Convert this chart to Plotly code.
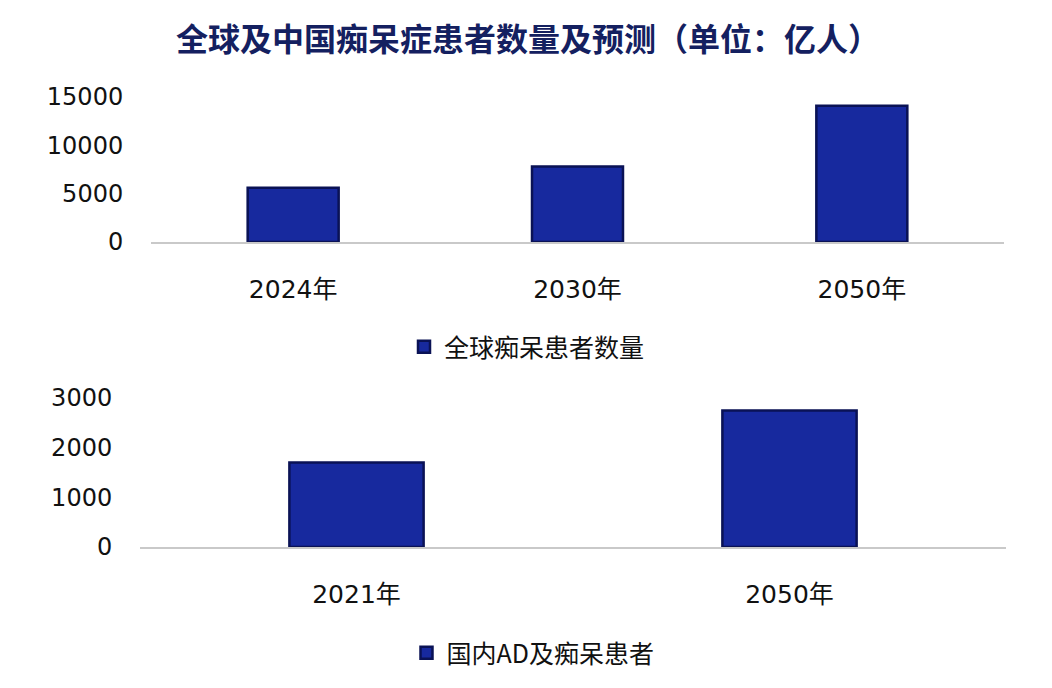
import plotly.graph_objects as go
from plotly.subplots import make_subplots

# Data
global_years = ["2024年", "2030年", "2050年"]
global_values = [5600, 7800, 14100]
global_name = "全球痴呆患者数量"

china_years = ["2021年", "2050年"]
china_values = [1700, 2750]
china_name = "国内AD及痴呆患者"

title_text = "全球及中国痴呆症患者数量及预测（单位：亿人）"

W, H = 1052, 688
OFF = 8  # page body margin offset


def px_x(p):
    return (p - OFF) / W


def px_y(p):
    return 1 - (p - OFF) / H


font_main = "DejaVu Sans, Noto Sans CJK SC"
font_cjk = "Noto Sans CJK SC"
bar_fill = "#17299E"
bar_edge = "#0A1255"

fig = make_subplots(rows=2, cols=1)

fig.add_trace(go.Bar(
    x=global_years, y=global_values, name=global_name,
    marker=dict(color=bar_fill, line=dict(color=bar_edge, width=2.5)),
    width=0.32, legend="legend", showlegend=True,
), row=1, col=1)

fig.add_trace(go.Bar(
    x=china_years, y=china_values, name=china_name,
    marker=dict(color=bar_fill, line=dict(color=bar_edge, width=2.5)),
    width=0.31, legend="legend2", showlegend=True,
), row=2, col=1)

fig.update_layout(
    width=W, height=H,
    margin=dict(l=0, r=0, t=0, b=0, autoexpand=False),
    paper_bgcolor="white", plot_bgcolor="white",
    showlegend=True,
    font=dict(family=font_main, color="#111111"),
    title=dict(text="<b>" + title_text + "</b>", x=px_x(528), xanchor="center",
               y=px_y(40), yanchor="middle",
               font=dict(size=32, color="#142060", family=font_cjk)),
    xaxis=dict(domain=[px_x(151), px_x(1004)], showline=True, linecolor="#C9C9C9", linewidth=1.5,
               ticks="outside", ticklen=24, tickcolor="rgba(0,0,0,0)",
               tickfont=dict(size=25, color="#111111")),
    yaxis=dict(domain=[px_y(242), px_y(97)], range=[0, 15000],
               tickvals=[0, 5000, 10000, 15000], tickformat="d",
               showgrid=False, zeroline=False,
               ticks="outside", ticklen=22, tickcolor="rgba(0,0,0,0)",
               tickfont=dict(size=24, color="#111111")),
    xaxis2=dict(domain=[px_x(140), px_x(1006)], showline=True, linecolor="#C9C9C9", linewidth=1.5,
                ticks="outside", ticklen=24, tickcolor="rgba(0,0,0,0)",
                tickfont=dict(size=25, color="#111111")),
    yaxis2=dict(domain=[px_y(547), px_y(398)], range=[0, 3000],
                tickvals=[0, 1000, 2000, 3000], tickformat="d",
                showgrid=False, zeroline=False,
                ticks="outside", ticklen=22, tickcolor="rgba(0,0,0,0)",
                tickfont=dict(size=24, color="#111111")),
    legend=dict(x=px_x(527), y=px_y(347), xanchor="center", yanchor="middle",
                orientation="h", font=dict(size=25, color="#111111", family=font_cjk),
                bgcolor="rgba(0,0,0,0)"),
    legend2=dict(x=px_x(533), y=px_y(653), xanchor="center", yanchor="middle",
                 orientation="h", font=dict(size=25, color="#111111", family=font_cjk),
                 bgcolor="rgba(0,0,0,0)"),
    bargap=0.68,
)

fig.write_html("out.html")
